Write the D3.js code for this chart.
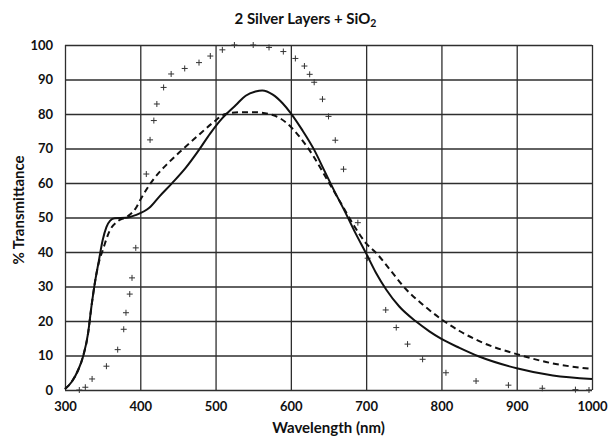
<!DOCTYPE html>
<html>
<head>
<meta charset="utf-8">
<script src="https://cdn.jsdelivr.net/npm/d3@7"></script>
<style>
  html, body { margin: 0; padding: 0; background: #fff; }
  svg { display: block; font-family: Lato, "Open Sans", sans-serif; }
</style>
</head>
<body>
<svg id="chart" width="609" height="441"></svg>
<script>
// Measured transmittance, solid curve: [wavelength nm, % T]
const solidSeries = [
  [300, 0.3], [309, 2.4], [317.5, 5.8], [324, 9.7], [330.7, 16.5], [335, 24],
  [340, 31.5], [345, 37.5], [350, 43.4], [355, 47.2], [360, 49.1], [366, 49.8],
  [381, 49.9], [394, 50.7], [412, 52.8], [425, 56], [442, 59.9], [460, 64.3],
  [478, 69.6], [493, 74.4], [509, 78.8], [527, 82.6], [540, 85.3], [553, 86.5],
  [562, 86.8], [576, 85.6], [589, 83.1], [600, 80.2], [615, 75.4], [631, 69.6],
  [644, 63.8], [657, 58], [673, 51.2], [686, 45.4], [700, 39.6], [713, 34],
  [727, 29], [744, 24.2], [766, 19.9], [784, 17], [800, 14.8], [824, 12.2],
  [850, 9.7], [900, 6.3], [948, 4.2], [1000, 3.2]
];

// Dashed curve: [wavelength nm, % T]
const dashedSeries = [
  [300, 0.3], [309, 2.4], [317.5, 5.8], [324, 9.7], [330.7, 16.5], [335, 24],
  [340, 31.5], [345, 37], [350.4, 40.7], [359, 46], [370, 48.9], [383, 50.3],
  [394, 52.7], [401, 55.5], [418, 61.2], [438, 66], [456, 69.7], [476, 73.6],
  [496, 77.4], [513, 80], [531, 80.5], [553, 80.5], [576, 79.7], [595, 77.3],
  [613, 73], [629, 68.1], [646, 61.8], [664, 55.1], [682, 48.3], [700, 42.5],
  [713, 39.8], [733, 34.5], [753, 29.2], [775, 24.8], [800, 20.5], [824, 17.1],
  [855, 13.7], [900, 10.4], [948, 7.7], [1000, 6.1]
];

// Point series drawn with "+" markers: [wavelength nm, % T]
const plusSeries = [
  [319, 0], [327, 0.8], [336, 3.2], [355, 6.9], [370, 11.7], [378, 17.6],
  [381, 22.4], [386, 27.8], [389, 32.5], [394, 41.2], [408, 62.6], [413, 72.5],
  [418, 78.1], [422, 82.9], [431, 87.7], [441, 91.6], [459, 93.2], [478, 94.9],
  [493, 96.8], [509, 98.6], [525, 100], [550, 100], [571, 99.3], [590, 98.1],
  [606, 96.1], [618, 93.9], [625, 91.5], [631, 89.2], [642, 84.3], [650, 79.3],
  [659, 72.4], [670, 64], [689, 48.5], [702, 38.2], [726, 23.2], [740, 18.1],
  [755, 13.3], [775, 8.9], [806, 5.0], [846, 2.6], [889, 1.4], [934, 0.5],
  [978, 0.1], [996, 0]
];

const xTicks = [300, 400, 500, 600, 700, 800, 900, 1000];
const yTicks = [0, 10, 20, 30, 40, 50, 60, 70, 80, 90, 100];

const svg = d3.select("#chart");
const margin = { left: 65, right: 17, top: 45, bottom: 51 };
const W = 609, H = 441;

const x = d3.scaleLinear().domain([300, 1000]).range([margin.left, W - margin.right]);
const y = d3.scaleLinear().domain([0, 100]).range([H - margin.bottom, margin.top]);

const gridColor = "#2e2e2e";
const fontStack = "Lato, 'Open Sans', sans-serif";

// Gridlines
svg.append("g")
  .attr("transform", `translate(0,${y(0)})`)
  .call(d3.axisBottom(x).tickValues(xTicks).tickSize(-(y(0) - y(100))).tickFormat(""))
  .call(g => g.select(".domain").remove())
  .call(g => g.selectAll("line").attr("stroke", gridColor).attr("stroke-width", 1.3));

svg.append("g")
  .attr("transform", `translate(${x(300)},0)`)
  .call(d3.axisLeft(y).tickValues(yTicks).tickSize(-(x(1000) - x(300))).tickFormat(""))
  .call(g => g.select(".domain").remove())
  .call(g => g.selectAll("line").attr("stroke", gridColor).attr("stroke-width", 1.3));

// Tick labels
svg.append("g")
  .attr("transform", `translate(0,${y(0)})`)
  .call(d3.axisBottom(x).tickValues(xTicks).tickFormat(d3.format("d")).tickSize(0).tickPadding(12))
  .call(g => g.select(".domain").remove())
  .call(g => g.selectAll("text")
    .attr("font-family", fontStack)
    .attr("font-size", 13).attr("font-weight", "bold").attr("fill", "#111"));

svg.append("g")
  .attr("transform", `translate(${x(300)},0)`)
  .call(d3.axisLeft(y).tickValues(yTicks).tickSize(0).tickPadding(12))
  .call(g => g.select(".domain").remove())
  .call(g => g.selectAll("text")
    .attr("font-family", fontStack)
    .attr("font-size", 13).attr("font-weight", "bold").attr("fill", "#111"));

// Plus markers
const ps = 3;
svg.append("g").selectAll("path")
  .data(plusSeries)
  .join("path")
  .attr("d", d => {
    const cx = x(d[0]), cy = y(d[1]);
    return `M${cx - ps},${cy}H${cx + ps}M${cx},${cy - ps}V${cy + ps}`;
  })
  .attr("stroke", "#333")
  .attr("stroke-width", 1)
  .attr("fill", "none");

const line = d3.line()
  .x(d => x(d[0]))
  .y(d => y(d[1]))
  .curve(d3.curveMonotoneX);

svg.append("path")
  .datum(dashedSeries)
  .attr("d", line)
  .attr("fill", "none")
  .attr("stroke", "#111")
  .attr("stroke-width", 2)
  .attr("stroke-dasharray", "6,4");

svg.append("path")
  .datum(solidSeries)
  .attr("d", line)
  .attr("fill", "none")
  .attr("stroke", "#111")
  .attr("stroke-width", 2);

// Title
const title = svg.append("text")
  .attr("x", (x(300) + x(1000)) / 2 - 23)
  .attr("y", 24)
  .attr("text-anchor", "middle")
  .attr("font-size", 15)
  .attr("font-weight", "bold")
  .attr("fill", "#111");
title.append("tspan").text("2 Silver Layers + SiO");
title.append("tspan").attr("font-size", 10.5).attr("dy", 3).text("2");

// Axis titles
svg.append("text")
  .attr("x", (x(300) + x(1000)) / 2)
  .attr("y", 433)
  .attr("text-anchor", "middle")
  .attr("font-size", 15)
  .attr("font-weight", "bold")
  .attr("fill", "#111")
  .text("Wavelength (nm)");

svg.append("text")
  .attr("transform", `translate(24,210) rotate(-90)`)
  .attr("text-anchor", "middle")
  .attr("font-size", 15)
  .attr("font-weight", "bold")
  .attr("fill", "#111")
  .text("% Transmittance");
</script>
</body>
</html>
